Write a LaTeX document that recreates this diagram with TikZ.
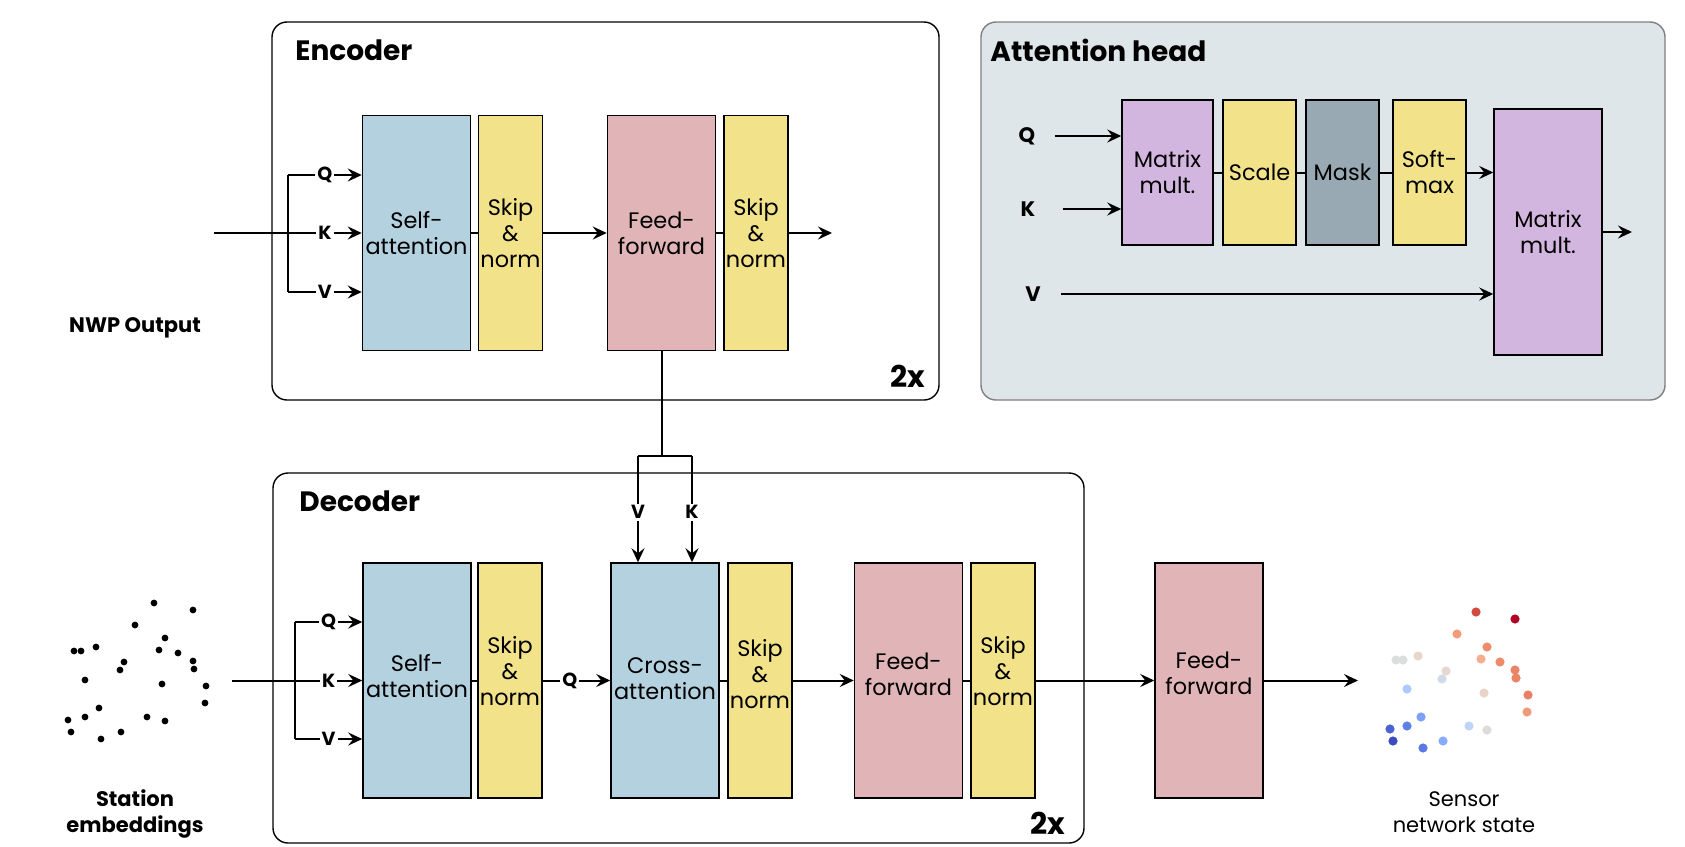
\documentclass[tikz,border=0pt]{standalone}
\usepackage{fontspec}
\setmainfont{Poppins}
\usetikzlibrary{arrows.meta}
\definecolor{cblue}{HTML}{B4D1DF}
\definecolor{cyel}{HTML}{F2E38B}
\definecolor{cpink}{HTML}{E1B5B7}
\definecolor{cpurp}{HTML}{D3B6DF}
\definecolor{cmask}{HTML}{98A9B4}
\definecolor{cbg}{HTML}{DFE6E9}
\definecolor{cbord}{HTML}{7F7F7F}
\begin{document}
\begin{tikzpicture}[x=0.5pt,y=-0.5pt,
  blk/.style={draw=black, line width=0.75pt, inner sep=0pt, align=center,
    font=\fontsize{11.2}{13}\selectfont, text=black},
  wide/.style={blk, minimum width=54pt, minimum height=117.5pt},
  thin/.style={blk, fill=cyel, minimum width=32pt, minimum height=117.5pt},
  tup/.style={text depth=#1},
  outer/.style={draw=black, line width=0.7pt, rounded corners=7.5pt, inner sep=0pt},
  title/.style={anchor=west, inner sep=0pt, font=\bfseries\fontsize{14}{15}\selectfont},
  rep/.style={inner sep=0pt, font=\bfseries\fontsize{15}{16}\selectfont},
  lbl/.style={fill=white, inner sep=1pt, font=\bfseries\fontsize{9.5}{10}\selectfont},
  albl/.style={inner sep=0pt, font=\bfseries\fontsize{10.5}{11}\selectfont},
  captxt/.style={inner sep=0pt, align=center, font=\fontsize{10.5}{13}\selectfont},
  arr/.style={-{Stealth[length=7pt,width=6.5pt,inset=2.5pt]}, line width=1pt},
  ln/.style={line width=1pt}
]
\useasboundingbox (0,0) rectangle (1685,846);

% ---------- containers ----------
\node[outer, minimum width=333.5pt, minimum height=189pt] (enc) at (605.5,211) {};
\node[outer, minimum width=405.5pt, minimum height=185pt] (dec) at (678.5,658) {};
\node[outer, draw=cbord, fill=cbg, minimum width=342pt, minimum height=189pt] (att) at (1323,211) {};

\node[title] (enct) at (295,50) {Encoder};
\node[title] (dect) at (299,501) {Decoder};
\node[title] (attt) at (990,50) {Attention head};
\node[rep] (enc2x) at (908,376) {2x};
\node[rep] (dec2x) at (1048,823) {2x};

% ---------- encoder ----------
\node[wide, fill=cblue] (esa) at (416.5,233) {Self-\\attention};
\node[thin] (esn) at (510.5,233) {Skip\\\&\\norm};
\node[wide, fill=cpink] (eff) at (661.5,233) {Feed-\\forward};
\node[thin] (esn2) at (756,233) {Skip\\\&\\norm};

\node[captxt, font=\bfseries\fontsize{10.5}{13}\selectfont] (nwp) at (135,328) {NWP Output};
\coordinate (ein) at (214,233);
\coordinate (ebr) at (288,233);
\coordinate (eq) at (288,175);
\coordinate (ev) at (288,292);
\coordinate (eout) at (832,233);
\draw[ln] (ein) -- (ebr);
\draw[ln] (eq) -- (ev);
\draw[arr] (eq) -- node[lbl] {Q} (esa.west |- eq);
\draw[arr] (ebr) -- node[lbl] {K} (esa.west |- ebr);
\draw[arr] (ev) -- node[lbl] {V} (esa.west |- ev);
\draw[ln] (esa.east) -- (esn.west);
\draw[arr] (esn.east) -- (eff.west);
\draw[ln] (eff.east) -- (esn2.west);
\draw[arr] (esn2.east) -- (eout);

% ---------- decoder ----------
\node[wide, fill=cblue, tup=4.3pt] (dsa) at (417,680.5) {Self-\\attention};
\node[thin, tup=9.5pt] (dsn) at (510,680.5) {Skip\\\&\\norm};
\node[wide, fill=cblue, tup=2.2pt] (dca) at (665,680.5) {Cross-\\attention};
\node[thin, tup=6.5pt] (dsn2) at (760,680.5) {Skip\\\&\\norm};
\node[wide, fill=cpink, tup=6.5pt] (dff) at (908.5,680.5) {Feed-\\forward};
\node[thin, tup=9.5pt] (dsn3) at (1003,680.5) {Skip\\\&\\norm};
\node[wide, fill=cpink, tup=7.5pt] (fff) at (1209,680.5) {Feed-\\forward};

\coordinate (din) at (232,680.5);
\coordinate (dbr) at (295,680.5);
\coordinate (dq) at (295,622);
\coordinate (dv) at (295,739);
\draw[ln] (din) -- (dbr);
\draw[ln] (dq) -- (dv);
\draw[arr] (dq) -- node[lbl] {Q} (dsa.west |- dq);
\draw[arr] (dbr) -- node[lbl] {K} (dsa.west |- dbr);
\draw[arr] (dv) -- node[lbl] {V} (dsa.west |- dv);
\draw[ln] (dsa.east) -- (dsn.west);
\draw[arr] (dsn.east) -- node[lbl, pos=0.4] {Q} (dca.west);
\draw[ln] (dca.east) -- (dsn2.west);
\draw[arr] (dsn2.east) -- (dff.west);
\draw[ln] (dff.east) -- (dsn3.west);
\draw[arr] (dsn3.east) -- (fff.west);
\coordinate (sout) at (1358,680.5);
\draw[arr] (fff.east) -- (sout);

% encoder -> cross attention
\coordinate (xj) at (661.5,456);
\coordinate (xv) at (638,456);
\coordinate (xk) at (692,456);
\draw[ln] (eff.south) -- (xj);
\draw[ln] (xv) -- (xk);
\draw[arr] (xv) -- node[lbl, pos=0.53] {V} (xv |- dca.north);
\draw[arr] (xk) -- node[lbl, pos=0.53] {K} (xk |- dca.north);

% ---------- attention head ----------
\node[blk, fill=cpurp, minimum width=45.5pt, minimum height=72.5pt] (mm1) at (1167.5,172.5) {Matrix\\mult.};
\node[blk, fill=cyel, minimum width=36.5pt, minimum height=72.5pt] (scl) at (1259.5,172.5) {Scale};
\node[blk, fill=cmask, minimum width=36.5pt, minimum height=72.5pt] (msk) at (1342.5,172.5) {Mask};
\node[blk, fill=cyel, minimum width=36.5pt, minimum height=72.5pt] (smx) at (1429.5,172.5) {Soft-\\max};
\node[blk, fill=cpurp, minimum width=54pt, minimum height=123pt] (mm2) at (1548,232) {Matrix\\mult.};

\node[albl] (aq) at (1027,136) {Q};
\node[albl] (ak) at (1028,209) {K};
\node[albl] (av) at (1033,294) {V};
\draw[arr, shorten <=9.5pt] (aq.east) -- (mm1.west |- aq);
\draw[arr, shorten <=13.5pt] (ak.east) -- (mm1.west |- ak);
\draw[arr, shorten <=10pt] (av.east) -- (mm2.west |- av);
\draw[ln] (mm1.east) -- (scl.west);
\draw[ln] (scl.east) -- (msk.west);
\draw[ln] (msk.east) -- (smx.west);
\draw[arr] (smx.east) -- (mm2.west |- smx.east);
\coordinate (aout) at (1632,232);
\draw[arr] (mm2.east) -- (aout);

% ---------- point clouds ----------
\node[captxt, font=\bfseries\fontsize{10.5}{13}\selectfont] (stat) at (135,814) {Station\\embeddings};
\node[captxt] (sens) at (1464,812) {Sensor\\network state};
\foreach \px/\py/\cc in {154/603/D24B40, 193/610/B40426, 135/625/F39C7C, 165/638/EE8C6C,
  74/651/DCDDDD, 81/651/DCDDDD, 96/647/E8D6CC, 159/650/F5AE8E, 178/653/EE8B6B,
  124/662/E5D8D1, 120/670/D1DAE9, 193/661/EB8466, 194/669/EB8466, 85/680/AEC9FC,
  162/684/EAD4C8, 206/686/EA8063, 205/703/F09A7C, 99/708/7DA0F9, 85/717/5F7FE8,
  68/720/4A63D3, 147/717/C0D4F5, 165/721/DDDCDC, 71/732/3B4CC0, 101/739/5B7AE5,
  121/732/88ABFD} {
  \definecolor{dotc}{HTML}{\cc}
  \fill[black] (\px,\py) circle[radius=1.7pt];
  \fill[dotc] (\px+1322,\py+9) circle[radius=2.3pt];
}
\end{tikzpicture}
\end{document}
